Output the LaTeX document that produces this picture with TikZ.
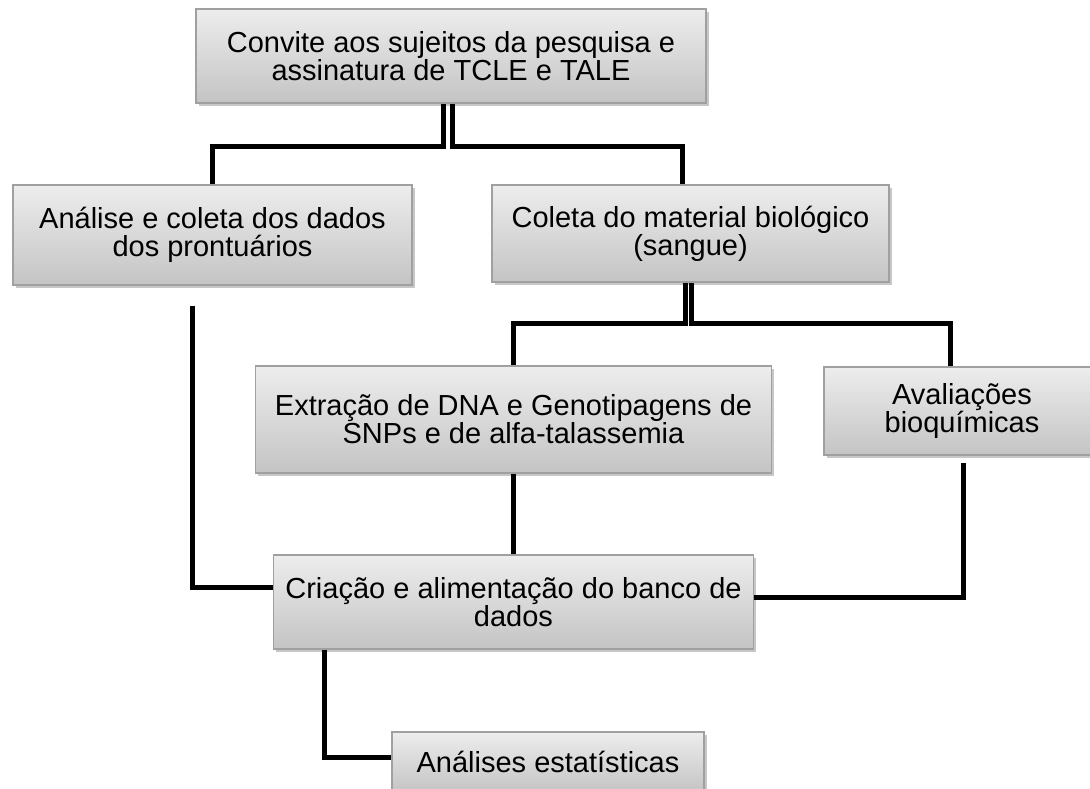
\documentclass[tikz,border=0pt]{standalone}
\usepackage{fontspec}
\setmainfont{Liberation Sans}
\usetikzlibrary{shadows,calc}
\definecolor{boxtop}{HTML}{EDEDED}
\definecolor{boxbot}{HTML}{C4C4C4}
\definecolor{boxline}{HTML}{A0A0A0}
\tikzset{
  box/.style={rectangle, draw=boxline, line width=1.3pt, top color=boxtop, bottom color=boxbot,
    inner sep=0pt, align=center, text=black,
    font=\fontsize{29pt}{28pt}\selectfont,
    drop shadow={shadow xshift=2.5pt, shadow yshift=-3pt, fill=black, opacity=0.22}},
  conn/.style={line width=5pt, black, line join=miter}
}
\begin{document}
\begin{tikzpicture}[x=1pt,y=-1pt]
\useasboundingbox (0,0) rectangle (1090,788);
\clip (0,0) rectangle (1090,788);
\fill[white] (0,0) rectangle (1090,788);
\node[box, minimum width=510pt, minimum height=94pt] (top) at (451,56) {Convite aos sujeitos da pesquisa e\\assinatura de TCLE e TALE};
\node[box, minimum width=399pt, minimum height=100pt] (ana) at (212.5,235) {Análise e coleta dos dados\\dos prontuários};
\node[box, minimum width=397pt, minimum height=97pt] (col) at (690.5,233.5) {Coleta do material biológico\\(sangue)};
\node[box, minimum width=516pt, minimum height=107pt] (ext) at (513.5,419.5) {Extração de DNA e Genotipagens de\\SNPs e de alfa-talassemia};
\node[box, minimum width=276pt, minimum height=88pt] (ava) at (962,411) {Avaliações\\bioquímicas};
\node[box, minimum width=480pt, minimum height=94pt] (cri) at (513.5,602) {Criação e alimentação do banco de\\dados};
\node[box, minimum width=312pt, minimum height=60pt] (ans) at (548,762) {Análises estatísticas};

\draw[conn] ([xshift=-7.5pt]top.south) -- ++(0,43) -| (ana.north);
\draw[conn] ([xshift=1.5pt]top.south) -- ++(0,43) -| ([xshift=-8.5pt]col.north);
\draw[conn] ([xshift=-5.5pt]col.south) -- ++(0,41) -| (ext.north);
\draw[conn] ([xshift=0.5pt]col.south) -- ++(0,41) -| ([xshift=-11.5pt]ava.north);
\draw[conn] ([xshift=-20.5pt,yshift=-20pt]ana.south) |- ([yshift=15pt]cri.west);
\draw[conn] (ext.south) -- (cri.north);
\draw[conn] ([xshift=1pt,yshift=-7pt]ava.south) |- ([yshift=5pt]cri.east);
\draw[conn] ([xshift=-189.5pt]cri.south) |- ([yshift=4.5pt]ans.west);
\end{tikzpicture}
\end{document}
